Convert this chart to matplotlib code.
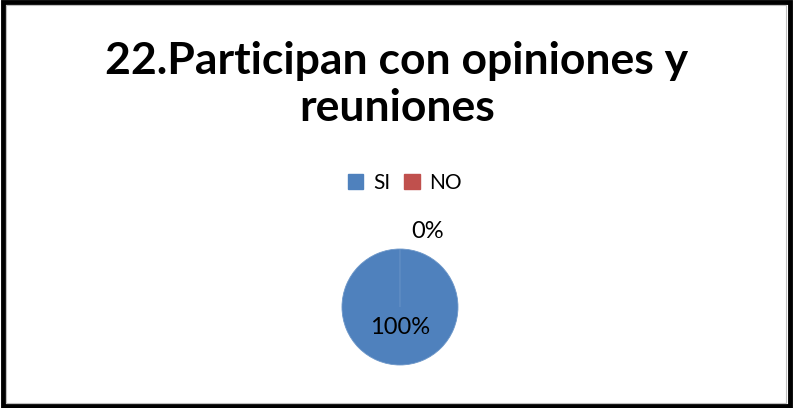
import matplotlib.pyplot as plt
from matplotlib.patches import Rectangle

# Data
categories = ['SI', 'NO']
values = [100, 0]
colors = ['#4F81BD', '#C0504D']
title = '22.Participan con opiniones y\nreuniones'

plt.rcParams['font.family'] = ['Lato', 'DejaVu Sans']

fig = plt.figure(figsize=(7.94, 4.08), dpi=100)
fig.patch.set_facecolor('white')

# Outer frame (black border with thin grey inner shadow)
fig.patches.append(Rectangle((0.0035, 0.006), 0.9915, 0.988, transform=fig.transFigure,
                             fill=False, edgecolor='black', lw=3.5))
fig.patches.append(Rectangle((0.007, 0.012), 0.983, 0.976, transform=fig.transFigure,
                             fill=False, edgecolor='#bfbfbf', lw=0.8))

fig.text(0.5, 0.793, title, ha='center', va='center', fontsize=32,
         fontweight='bold', linespacing=1.2)

# Pie
ax = fig.add_axes([0.4307, 0.1054, 0.1461, 0.2843])
wedges, texts, autotexts = ax.pie(values, colors=colors, startangle=90, counterclock=False,
                                  autopct='%1.0f%%', pctdistance=0.36, radius=1.0,
                                  wedgeprops=dict(edgecolor='#6d97c9', linewidth=0.6),
                                  textprops=dict(fontsize=17, color='black'))
autotexts[1].set_position((0.48, 1.31))
ax.set_xlim(-1, 1)
ax.set_ylim(-1, 1)
ax.set_aspect('equal')
ax.axis('off')

# Legend
handles = [Rectangle((0, 0), 1, 1, color=c) for c in colors]
fig.legend(handles, categories, loc='center', bbox_to_anchor=(0.510, 0.552), ncol=2,
           frameon=False, fontsize=15, handlelength=0.75, handleheight=0.75,
           handletextpad=0.45, columnspacing=0.7)

fig.savefig('out.png', dpi=100, facecolor='white')
